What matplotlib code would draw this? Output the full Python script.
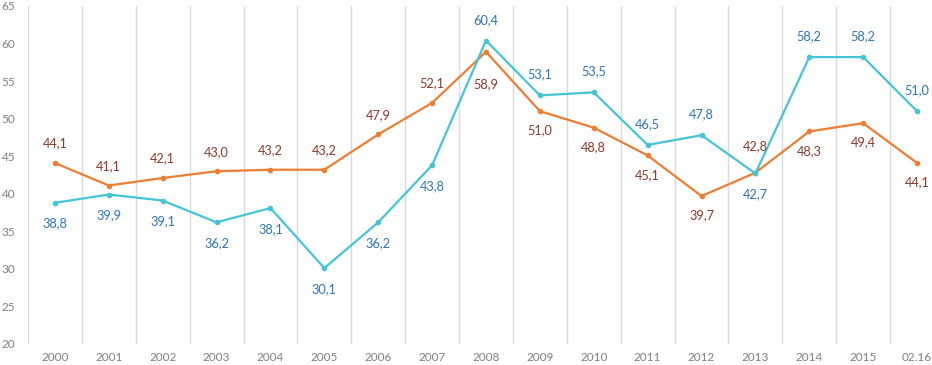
import matplotlib
matplotlib.use('Agg')
import matplotlib.pyplot as plt
import numpy as np

categories = ["2000", "2001", "2002", "2003", "2004", "2005", "2006", "2007", "2008",
              "2009", "2010", "2011", "2012", "2013", "2014", "2015", "02.16"]
orange_vals = [44.1, 41.1, 42.1, 43.0, 43.2, 43.2, 47.9, 52.1, 58.9,
               51.0, 48.8, 45.1, 39.7, 42.8, 48.3, 49.4, 44.1]
cyan_vals = [38.8, 39.9, 39.1, 36.2, 38.1, 30.1, 36.2, 43.8, 60.4,
             53.1, 53.5, 46.5, 47.8, 42.7, 58.2, 58.2, 51.0]
# label offset in points (positive = above the point)
orange_off = [14, 14, 14, 14, 14, 14, 14, 14, -23, -14, -14, -14, -14, 19, -14, -14, -14]
cyan_off = [-15, -15, -15, -15, -15, -15, -15, -15, 15, 15, 15, 15, 15, -15, 15, 15, 15]

plt.rcParams['font.family'] = ['Lato', 'DejaVu Sans']

fig = plt.figure(figsize=(9.32, 3.65), dpi=100)
ax = fig.add_axes([28 / 932, 21 / 365, 916 / 932, 338 / 365])

x = np.arange(len(categories))
orange_c = "#ED7D31"
cyan_c = "#44C4D6"

ax.plot(x, orange_vals, color=orange_c, lw=1.6, marker="o", ms=3, zorder=3)
ax.plot(x, cyan_vals, color=cyan_c, lw=1.6, marker="o", ms=3, zorder=3)

for xi, v, o in zip(x, orange_vals, orange_off):
    ax.annotate(f"{v:.1f}".replace(".", ","), (xi, v), xytext=(0, o),
                textcoords="offset points", ha="center", va="center",
                fontsize=9.2, color="#8B3A2B")
for xi, v, o in zip(x, cyan_vals, cyan_off):
    ax.annotate(f"{v:.1f}".replace(".", ","), (xi, v), xytext=(0, o),
                textcoords="offset points", ha="center", va="center",
                fontsize=9.2, color="#2F75B5")

ax.set_xlim(-0.5, len(categories) - 0.5)
ax.set_ylim(20, 65)
ax.set_yticks(range(20, 66, 5))
ax.set_xticks(x)
ax.set_xticklabels(categories)

for b in np.arange(-0.5, len(categories), 1.0):
    ax.axvline(b, color="#D9D9D9", lw=1, zorder=1)

for s in ax.spines.values():
    s.set_visible(False)
ax.tick_params(length=0, labelsize=8.5, labelcolor="#7F7F7F")
ax.tick_params(axis="y", pad=9)
ax.tick_params(axis="x", pad=6)

plt.savefig("out.png", dpi=100)
plt.close()
